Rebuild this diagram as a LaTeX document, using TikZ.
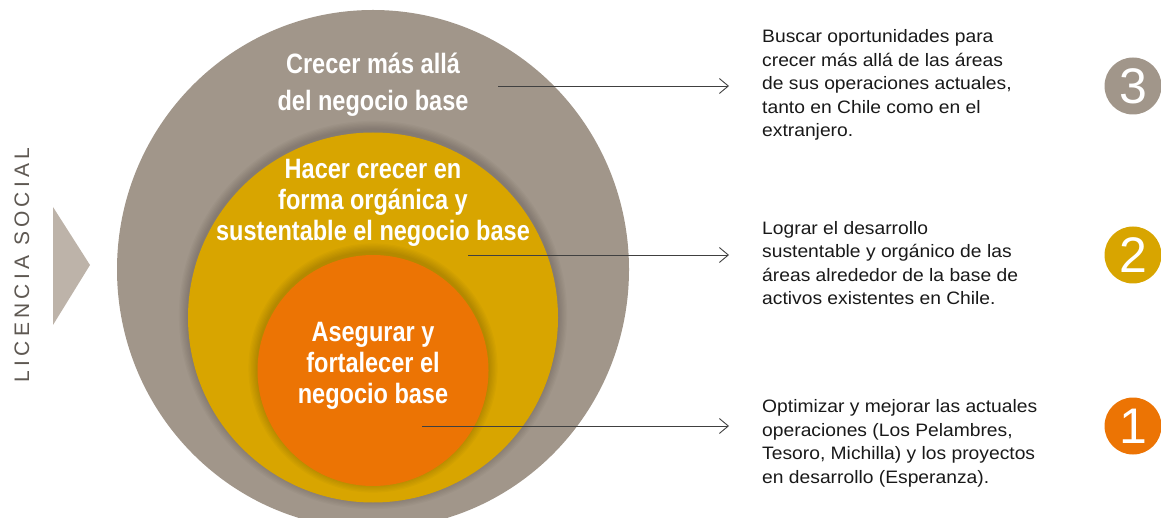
\documentclass[tikz,border=0pt]{standalone}
\usepackage{fontspec}
\setmainfont{Liberation Sans}
\newfontfamily\condfont[FakeStretch=0.84]{Liberation Sans}
\newfontfamily\descfont[FakeStretch=1.07]{Liberation Sans}
\newfontfamily\spacedfont[LetterSpace=20]{Liberation Sans}
\usepackage{xcolor}
\usepackage{tikz}
\usetikzlibrary{positioning,arrows.meta}

\definecolor{outergray}{HTML}{A1968A}
\definecolor{midyellow}{HTML}{D8A500}
\definecolor{innerorange}{HTML}{EC7404}
\definecolor{wedgegray}{HTML}{BDB3A9}
\definecolor{licgray}{HTML}{5E5852}

\begin{document}
\begin{tikzpicture}[
  x=1pt, y=-1pt,
  ringtext/.style={text=white, font=\condfont\bfseries\fontsize{28}{31}\selectfont, align=center, inner sep=0pt},
  desc/.style={anchor=base west, align=left, inner sep=0pt, font=\descfont\fontsize{18}{23.5}\selectfont, text=black!90},
  badge/.style={circle, minimum size=57pt, inner sep=0pt, text=white, font=\fontsize{50}{50}\selectfont},
  arrow/.style={-{Straight Barb[length=9pt,width=15pt]}, line width=0.9pt, draw=black!75}
]
\useasboundingbox (0,0) rectangle (1161,518);

% rings
\begin{scope}
\clip (0,0) rectangle (1161,518);
\coordinate (outerc) at (373,269.5);
\coordinate (midc) at (373,317.5);
\coordinate (innerc) at (373,370.5);
\fill[outergray] (outerc) ellipse (256 and 259.5);
\foreach \d in {1,...,7}
  \fill[black, opacity=0.022] ([yshift=2.5pt]midc) circle (185+\d*1.3);
\fill[midyellow] (midc) circle (185);
\foreach \d in {1,...,7}
  \fill[black, opacity=0.022] ([yshift=2.5pt]innerc) circle (115.5+\d*1.3);
\fill[innerorange] (innerc) circle (115.5);
\end{scope}

% ring texts (base = last line)
\node[ringtext, anchor=base] (outerlbl) at (373,110.5) {Crecer más allá\\[5.7pt]del negocio base};
\node[ringtext, anchor=base] (midlbl) at (373,241) {Hacer crecer en\\forma orgánica y\\sustentable el negocio base};
\node[ringtext, anchor=base] (innerlbl) at (373,403) {Asegurar y\\fortalecer el\\negocio base};

% descriptions
\node[desc] (d3) at (762,137) {Buscar oportunidades para\\crecer más allá de las áreas\\de sus operaciones actuales,\\tanto en Chile como en el\\extranjero.};
\node[desc] (d2) at (762,305) {Lograr el desarrollo\\sustentable y orgánico de las\\áreas alrededor de la base de\\activos existentes en Chile.};
\node[desc] (d1) at (762,483) {Optimizar y mejorar las actuales\\operaciones (Los Pelambres,\\Tesoro, Michilla) y los proyectos\\en desarrollo (Esperanza).};

% pointers
\coordinate (p3) at (498,86);
\coordinate (p2) at (468,255);
\coordinate (p1) at (422,426);
\draw[arrow] (p3) -- ([xshift=-33pt]d3.west |- p3);
\draw[arrow] (p2) -- ([xshift=-33pt]d2.west |- p2);
\draw[arrow] (p1) -- ([xshift=-33pt]d1.west |- p1);

% numbers
\node[badge, fill=outergray] (n3) at (1133,86) {3};
\node[badge, fill=midyellow] (n2) at (1133,255) {2};
\node[badge, fill=innerorange] (n1) at (1133,426) {1};

% licencia social
\node[rotate=90, text=licgray, font=\spacedfont\fontsize{21}{21}\selectfont] (lic) at (22,265) {LICENCIA SOCIAL};
\fill[wedgegray] (53,207) -- (90,265) -- (53,325) -- cycle;

\end{tikzpicture}
\end{document}
